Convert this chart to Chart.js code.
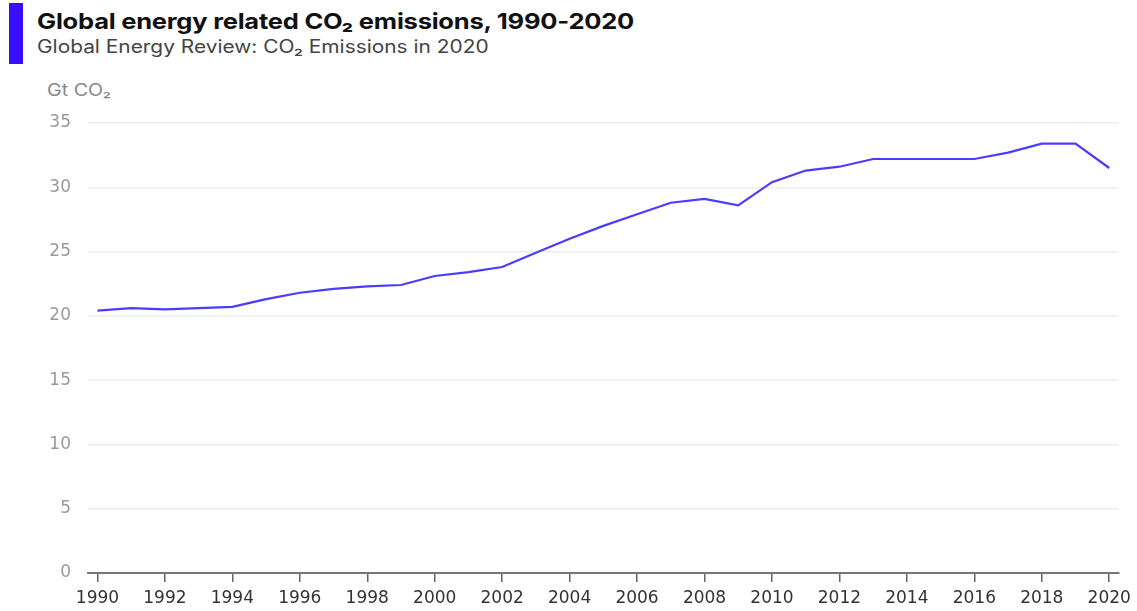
<!DOCTYPE html>
<html lang="en">
<head>
  <meta charset="UTF-8" />
  <title>Global energy related CO₂ emissions, 1990-2020</title>
  <script src="https://cdn.jsdelivr.net/npm/chart.js"></script>
  <style>
    html, body { margin: 0; padding: 0; background: #fff; }
    body { width: 1137px; height: 611px; position: relative; overflow: hidden; font-family: Inter, "Open Sans", sans-serif; }
    .bar { position: absolute; left: 9px; top: 3px; width: 14px; height: 61px; background: #3a0dff; }
    .txt { position: absolute; white-space: nowrap; transform: scaleX(1.16); transform-origin: left top; }
    .title { left: 37px; top: 8px; font-size: 22px; font-weight: 700; color: #111; letter-spacing: -0.2px; }
    .subtitle { left: 37px; top: 36px; font-size: 18px; color: #444; }
    .unit { left: 47px; top: 80px; font-size: 17px; color: #888; }
    #wrap { position: absolute; left: 0; top: 0; width: 1137px; height: 611px; }
  </style>
</head>
<body>
  <div class="bar"></div>
  <div class="txt title">Global energy related CO₂ emissions, 1990-2020</div>
  <div class="txt subtitle">Global Energy Review: CO₂ Emissions in 2020</div>
  <div class="txt unit">Gt CO₂</div>
  <div id="wrap"><canvas id="co2Chart"></canvas></div>

  <script>
    // years and emissions (Gt CO2)
    const years = [1990, 1991, 1992, 1993, 1994, 1995, 1996, 1997, 1998, 1999,
                   2000, 2001, 2002, 2003, 2004, 2005, 2006, 2007, 2008, 2009,
                   2010, 2011, 2012, 2013, 2014, 2015, 2016, 2017, 2018, 2019, 2020];
    const emissions = [20.4, 20.6, 20.5, 20.6, 20.7, 21.3, 21.8, 22.1, 22.3, 22.4,
                       23.1, 23.4, 23.8, 24.9, 26.0, 27.0, 27.9, 28.8, 29.1, 28.6,
                       30.4, 31.3, 31.6, 32.2, 32.2, 32.2, 32.2, 32.7, 33.4, 33.4, 31.5];
    const xTicks = [1990, 1992, 1994, 1996, 1998, 2000, 2002, 2004, 2006, 2008,
                    2010, 2012, 2014, 2016, 2018, 2020];

    new Chart(document.getElementById('co2Chart'), {
      type: 'line',
      data: {
        datasets: [{
          data: years.map((y, i) => ({ x: y, y: emissions[i] })),
          borderColor: '#4b3cff',
          borderWidth: 2.2,
          pointRadius: 0,
          tension: 0,
          fill: false
        }]
      },
      options: {
        responsive: true,
        maintainAspectRatio: false,
        animation: false,
        layout: { padding: { top: 123, right: 16, bottom: 0, left: 0 } },
        plugins: { legend: { display: false }, tooltip: { enabled: false } },
        scales: {
          x: {
            type: 'linear',
            min: 1989.72,
            max: 2020.28,
            afterBuildTicks: s => { s.ticks = xTicks.map(v => ({ value: v })); },
            afterFit: s => { s.height = 38; },
            grid: { drawOnChartArea: false, drawTicks: true, tickLength: 9, color: '#666', lineWidth: 1.5 },
            border: { color: '#777', width: 2 },
            ticks: {
              color: '#333',
              font: { family: 'DejaVu Sans', size: 17 },
              padding: 6,
              maxRotation: 0,
              autoSkip: false,
              callback: v => String(v)
            }
          },
          y: {
            min: 0,
            max: 35,
            afterFit: s => { s.width = 88; },
            grid: { color: '#ececec', lineWidth: 1.5, drawTicks: false },
            border: { display: false },
            ticks: {
              stepSize: 5,
              color: '#999',
              font: { family: 'DejaVu Sans', size: 17 },
              padding: 17
            }
          }
        }
      }
    });
  </script>
</body>
</html>
